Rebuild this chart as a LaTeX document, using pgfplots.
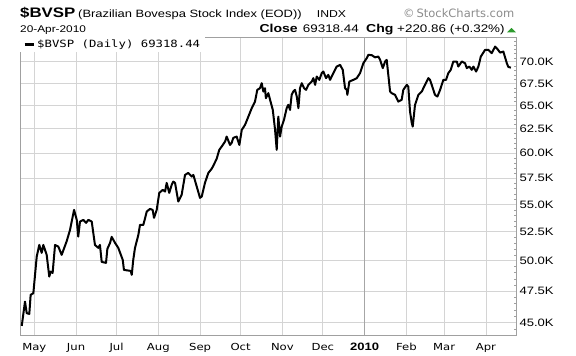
\documentclass[border=0pt]{standalone}
\usepackage{fontspec}
\setmainfont{Liberation Sans}[FakeStretch=1.22]
\newfontfamily\vfont{DejaVu Sans}[FakeStretch=1.2]
\newfontfamily\dvfont{DejaVu Sans}
\newfontfamily\mfont{DejaVu Sans Mono}[FakeStretch=1.23]
\usepackage{pgfplots}
\pgfplotsset{compat=1.18}
\definecolor{gridc}{HTML}{D4D4D4}
\definecolor{boxc}{HTML}{A0A0A0}
\definecolor{upgreen}{HTML}{2E9B2E}
\begin{document}
\begin{tikzpicture}
\useasboundingbox (0,0) rectangle (576pt,356pt);
\begin{axis}[
  at={(20pt,21pt)}, anchor=south west,
  scale only axis, width=496pt, height=298pt,
  xmin=-10.6, xmax=357.3,
  ymode=log, ymin=44095, ymax=73029,
  xtick={0,31,61,92,123,153,184,214,276,304,335},
  xticklabels={May,Jun,Jul,Aug,Sep,Oct,Nov,Dec,Feb,Mar,Apr},
  extra x ticks={245},
  extra x tick labels={2010},
  extra x tick style={grid style={draw=black!35, line width=0.8pt},
     xticklabel style={font=\fontsize{10.7}{12}\selectfont\bfseries}},
  xticklabel style={font=\vfont\fontsize{9.7}{11}\selectfont, yshift=-4.5pt},
  ytick={45000,47500,50000,52500,55000,57500,60000,62500,65000,67500,70000},
  yticklabels={45.0K,47.5K,50.0K,52.5K,55.0K,57.5K,60.0K,62.5K,65.0K,67.5K,70.0K},
  yticklabel pos=right,
  ytick pos=right, xtick pos=bottom,
  yticklabel style={font=\fontsize{10.7}{12}\selectfont},
  minor ytick={44500,45500,46000,46500,47000,48000,48500,49000,49500,50500,51000,51500,52000,53000,53500,54000,54500,55500,56000,56500,57000,58000,58500,59000,59500,60500,61000,61500,62000,63000,63500,64000,64500,65500,66000,66500,67000,68000,68500,69000,69500,70500,71000,71500,72000,72500},
  major tick length=0pt, minor tick length=2pt,
  minor tick style={boxc},
  grid=major,
  grid style={draw=gridc, line width=0.8pt},
  axis line style={draw=boxc, line width=0.8pt},
  legend style={at={(0,1)}, anchor=north west, draw=none, fill=white,
     inner xsep=3pt, inner ysep=1pt,
     font=\mfont\fontsize{10}{12}\selectfont},
  legend cell align=left,
  legend image code/.code={\draw[black, line width=3pt] (0pt,0pt) -- (9pt,0pt);},
]
\addplot[black, line width=2pt, line join=round] coordinates {
(-9.3,44772) (-6.9,46654) (-5.6,45745) (-3.7,45691) (-2.7,47185) (-0.7,47321)
(1.8,50344) (3.7,51350) (5.5,50663) (6.7,51350) (9.2,50491) (11.1,48670)
(12.2,49081) (13.6,48973) (15.4,51350) (17.8,51206) (20.3,50491) (24.0,51659)
(26.5,52671) (29.5,54485) (31.5,53571) (32.6,52079) (33.9,53418) (36.4,53571)
(38.4,53300) (40.1,53571) (42.6,53418) (45.0,51350) (47.5,51093) (48.7,51350)
(50.0,49897) (53.2,49812) (54.2,51006) (56.2,51525) (57.4,52052) (59.9,51525)
(62.3,51093) (65.6,50065) (66.5,49224) (71.5,49141) (72.3,48810) (73.4,50065)
(74.7,51093) (77.2,52229) (78.4,53122) (80.9,53122) (83.4,54327) (85.8,54578)
(87.8,54485) (88.8,53755) (90.8,54485) (92.7,56077) (95.3,56364) (97.0,56201)
(98.2,57034) (100.1,56077) (101.9,56840) (103.1,57159) (104.4,57034) (106.8,55260)
(109.3,55889) (111.8,57809) (114.2,58006) (116.8,57647) (118.0,57809) (120.5,56676)
(122.9,55606) (124.2,55728) (126.6,57034) (129.1,58006) (131.6,58419) (132.8,58718)
(135.3,59415) (137.2,60313) (139.0,60652) (141.5,61164) (142.7,61686) (145.2,60822)
(146.4,61029) (147.6,61550) (150.1,61686) (152.1,60822) (153.9,62387) (156.3,62919)
(158.8,63806) (161.3,64725) (163.7,65448) (165.4,66757) (167.4,66951) (168.7,67523)
(169.9,66571) (171.1,66951) (171.8,65829) (173.6,66391) (174.9,65638) (176.9,64538)
(178.6,62387) (179.8,60313) (181.0,63806) (182.3,61686) (183.5,62737) (185.2,63455)
(187.2,64725) (188.4,65087) (189.7,64538) (190.9,66201) (192.1,66571) (193.4,66757)
(194.7,66007) (195.9,64725) (197.1,66951) (198.4,67523) (200.1,66951) (201.6,66757)
(203.3,67328) (205.8,67706) (207.0,68099) (208.3,67328) (209.5,68283) (211.4,67902)
(213.2,68674) (214.4,68860) (216.4,68099) (218.1,68475) (219.4,67902) (221.8,68674)
(224.3,69448) (226.8,69648) (228.8,69060) (230.5,66951) (231.8,66757) (232.2,66201)
(233.7,67706) (236.6,67902) (239.2,68099) (241.6,68674) (244.1,69847) (246.6,70442)
(247.8,70838) (250.3,70800) (252.7,70540) (255.2,70632) (256.5,70239) (258.5,69264)
(260.2,70043) (261.4,70239) (263.9,66571) (265.1,66391) (267.6,66201) (270.0,65448)
(272.5,65638) (273.7,66757) (276.3,67328) (277.4,67132) (278.7,64351) (280.0,63102)
(280.7,62737) (282.4,65087) (284.9,66201) (287.4,66571) (289.8,67328) (292.3,68099)
(293.5,67902) (294.8,67328) (297.2,66201) (299.0,66007) (301.0,66757) (303.4,67902)
(305.4,67902) (307.1,68674) (308.9,69060) (310.8,70043) (313.4,70043) (314.5,69448)
(317.1,70043) (319.5,69847) (320.8,69264) (322.7,69448) (324.5,69060) (325.7,69448)
(327.7,68860) (329.4,69448) (331.2,70632) (334.4,71443) (336.8,71443) (339.3,71043)
(341.8,71836) (343.0,71643) (345.5,71112) (347.9,71232) (350.5,69847) (351.6,69400)
(353.5,69318)
};
\addlegendentry{\$BVSP (Daily) 69318.44}
\end{axis}
\node[anchor=base west, inner sep=0] at (20pt,338pt) {\fontsize{13.8}{15}\selectfont\bfseries \$BVSP};
\node[anchor=base west, inner sep=0] at (78pt,338pt) {\fontsize{10.6}{12}\selectfont (Brazilian Bovespa Stock Index (EOD))};
\node[anchor=base west, inner sep=0] at (316.7pt,338pt) {\fontsize{10}{12}\selectfont INDX};
\node[anchor=base west, inner sep=0, text=black!45] at (403pt,338.5pt) {\dvfont\fontsize{11.5}{13}\selectfont ©\,StockCharts.com};
\node[anchor=base west, inner sep=0] at (20pt,323pt) {\fontsize{9.7}{11}\selectfont 20-Apr-2010};
\node[anchor=base west, inner sep=0] at (259.3pt,323pt) {\fontsize{11.5}{13}\selectfont\bfseries Close};
\node[anchor=base west, inner sep=0] at (302.7pt,323pt) {\fontsize{11}{13}\selectfont 69318.44};
\node[anchor=base west, inner sep=0] at (366pt,323pt) {\fontsize{11.5}{13}\selectfont\bfseries Chg};
\node[anchor=base west, inner sep=0] at (397pt,323pt) {\fontsize{11}{13}\selectfont +220.86 (+0.32\%)};
\fill[upgreen] (507pt,323.7pt) -- (516pt,323.7pt) -- (511.5pt,328pt) -- cycle;
\end{tikzpicture}
\end{document}
